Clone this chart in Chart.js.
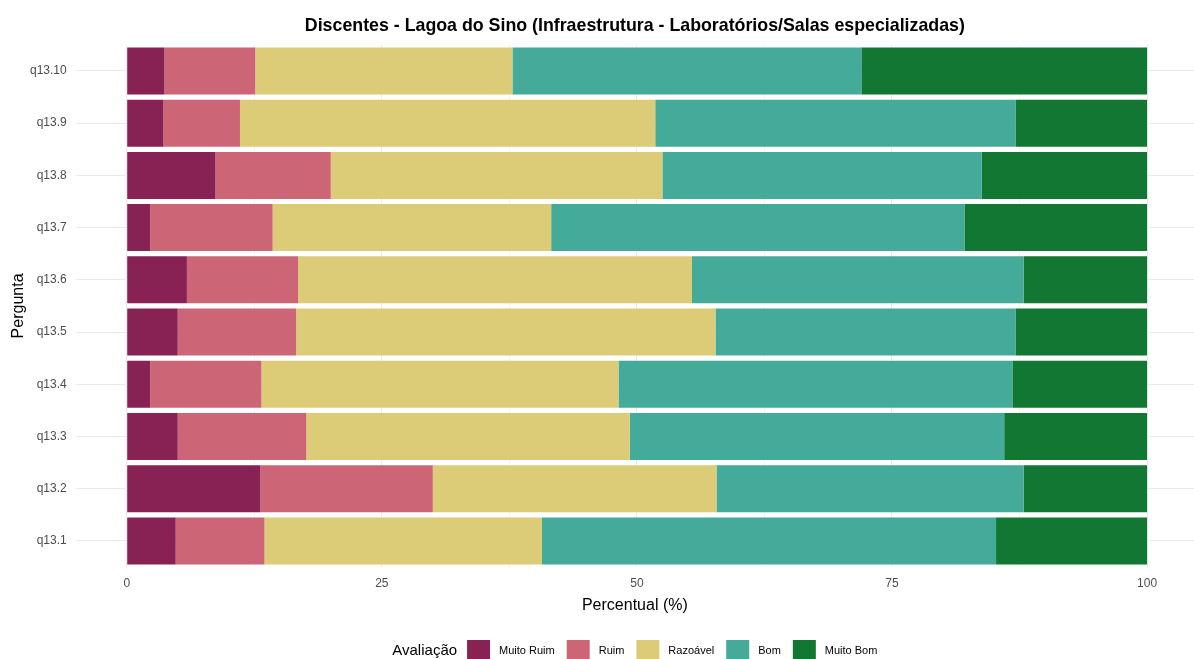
<!DOCTYPE html>
<html>
<head>
<meta charset="utf-8">
<script src="https://cdn.jsdelivr.net/npm/chart.js@4"></script>
<style>
  html, body { margin: 0; padding: 0; background: #fff; }
  #wrap { width: 1194px; height: 659px; }
</style>
</head>
<body>
<div id="wrap"><canvas id="chart"></canvas></div>
<script>
const perguntas = ['q13.10', 'q13.9', 'q13.8', 'q13.7', 'q13.6', 'q13.5', 'q13.4', 'q13.3', 'q13.2', 'q13.1'];
const muitoRuim = [3.7, 3.6, 8.7, 2.3, 5.9, 5.0, 2.3, 5.0, 13.1, 4.8];
const ruim      = [8.9, 7.5, 11.3, 12.0, 10.9, 11.6, 10.9, 12.6, 16.9, 8.7];
const razoavel  = [25.2, 40.7, 32.5, 27.3, 38.6, 41.1, 35.0, 31.7, 27.8, 27.2];
const bom       = [34.2, 35.3, 31.3, 40.5, 32.5, 29.4, 38.6, 36.7, 30.1, 44.5];
const muitoBom  = [28.0, 12.9, 16.2, 17.9, 12.1, 12.9, 13.2, 14.0, 12.1, 14.8];
const xTicks = [0, 25, 50, 75, 100];

const FONT = '"Liberation Sans", Arial, sans-serif';
Chart.defaults.font.family = FONT;

// title centred over the plot panel, like ggplot does
const alignTitle = {
  id: 'alignTitle',
  afterLayout(chart) {
    const t = chart.titleBlock;
    if (!t) return;
    t.left = chart.chartArea.left;
    t.right = chart.chartArea.right;
    t.width = t.right - t.left;
  }
};

// legend in one row with its title on the left
const inlineLegend = {
  id: 'inlineLegend',
  afterDraw(chart, args, opts) {
    const ctx = chart.ctx;
    const sets = chart.data.datasets;
    const cx = (chart.chartArea.left + chart.chartArea.right) / 2;
    const cy = chart.height - 8;
    const box = 23, gapBox = 9, gapItem = 12, gapTitle = 10;

    ctx.save();
    ctx.textBaseline = 'middle';
    ctx.font = '15px ' + FONT;
    const titleW = ctx.measureText(opts.title).width;
    ctx.font = '11px ' + FONT;
    const widths = sets.map(d => ctx.measureText(d.label).width);
    const total = titleW + gapTitle + widths.reduce((s, w) => s + box + gapBox + w, 0) + gapItem * (sets.length - 1);

    let x = cx - total / 2;
    ctx.fillStyle = '#000';
    ctx.font = '15px ' + FONT;
    ctx.fillText(opts.title, x, cy);
    x += titleW + gapTitle;

    ctx.font = '11px ' + FONT;
    sets.forEach((d, i) => {
      ctx.fillStyle = d.backgroundColor;
      ctx.fillRect(x, cy - 11, box, 22);
      x += box + gapBox;
      ctx.fillStyle = '#000';
      ctx.fillText(d.label, x, cy);
      x += widths[i] + gapItem;
    });
    ctx.restore();
  }
};

function serie(label, data, color) {
  return {
    label,
    data,
    backgroundColor: color,
    borderWidth: 0,
    categoryPercentage: 0.9,
    barPercentage: 1.0
  };
}

new Chart(document.getElementById('chart'), {
  type: 'bar',
  data: {
    labels: perguntas,
    datasets: [
      serie('Muito Ruim', muitoRuim, '#882255'),
      serie('Ruim', ruim, '#CC6677'),
      serie('Razoável', razoavel, '#DDCC77'),
      serie('Bom', bom, '#44AA99'),
      serie('Muito Bom', muitoBom, '#117733')
    ]
  },
  plugins: [alignTitle, inlineLegend],
  options: {
    indexAxis: 'y',
    responsive: true,
    maintainAspectRatio: false,
    animation: false,
    layout: { padding: { top: 0, left: 0, right: 0, bottom: 42 } },
    scales: {
      x: {
        stacked: true,
        min: -5,
        max: 104.6,
        afterBuildTicks(scale) {
          const vals = [];
          xTicks.forEach((v, i) => {
            vals.push(v);
            if (i < xTicks.length - 1) vals.push((v + xTicks[i + 1]) / 2);
          });
          scale.ticks = vals.map(v => ({ value: v }));
        },
        afterFit(scale) { scale.height = 50; },
        border: { display: false },
        grid: {
          drawTicks: false,
          color: ctx => (xTicks.includes(ctx.tick && ctx.tick.value) ? '#EBEBEB' : '#F3F3F3'),
          lineWidth: 1
        },
        ticks: {
          padding: 9,
          color: '#4D4D4D',
          font: { size: 12 },
          callback: v => (xTicks.includes(v) ? String(v) : '')
        },
        title: {
          display: true,
          text: 'Percentual (%)',
          color: '#000',
          font: { size: 16 },
          padding: { top: 0, bottom: 1.5 }
        }
      },
      y: {
        stacked: true,
        afterFit(scale) { scale.width = 75.7; },
        border: { display: false },
        grid: { offset: false, drawTicks: false, color: '#EBEBEB' },
        ticks: { padding: 9, color: '#4D4D4D', font: { size: 12 } },
        title: {
          display: true,
          text: 'Pergunta',
          color: '#000',
          font: { size: 16 },
          padding: { top: 9.4, bottom: 0 }
        }
      }
    },
    plugins: {
      legend: { display: false },
      tooltip: { enabled: false },
      inlineLegend: { title: 'Avaliação' },
      title: {
        display: true,
        text: 'Discentes - Lagoa do Sino (Infraestrutura - Laboratórios/Salas especializadas)',
        color: '#000',
        font: { size: 17.8, weight: 'bold' },
        padding: { top: 15.8, bottom: 7.7 }
      }
    }
  }
});
</script>
</body>
</html>
